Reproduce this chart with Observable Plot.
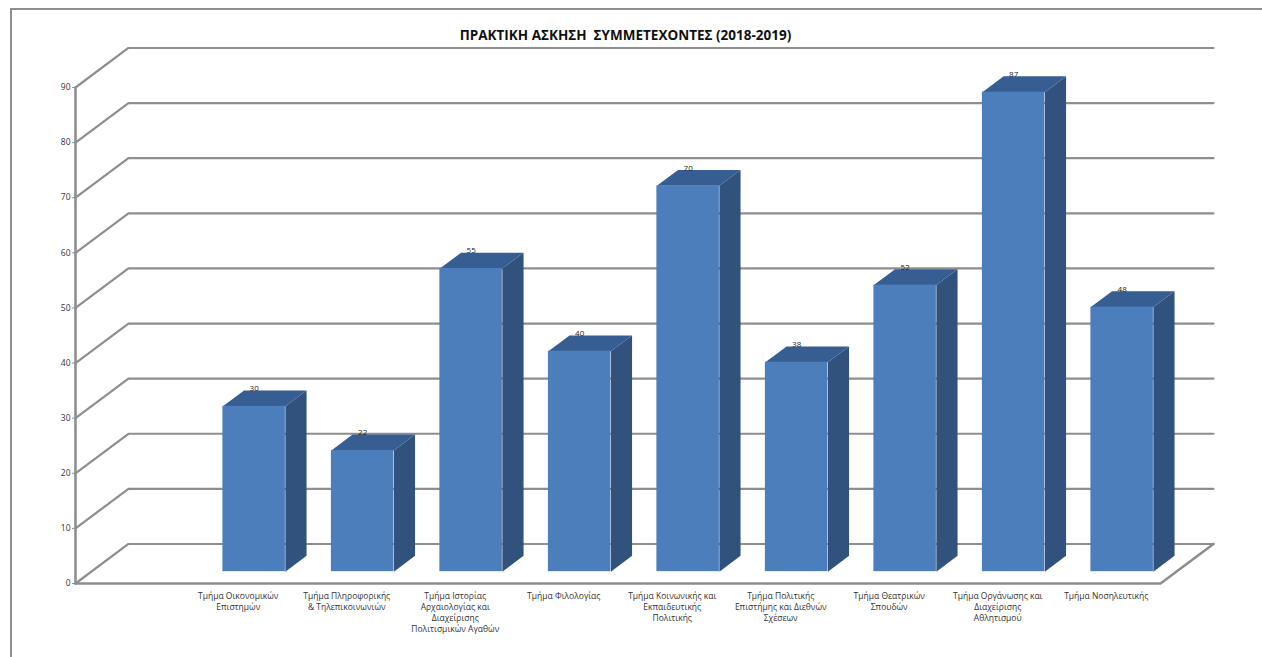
<!DOCTYPE html>
<html lang="el">
<head>
<meta charset="utf-8">
<script src="https://cdn.jsdelivr.net/npm/d3@7"></script>
<script src="https://cdn.jsdelivr.net/npm/@observablehq/plot@0.6"></script>
<style>
html,body{margin:0;padding:0;background:#fff;overflow:hidden}
#frame{position:absolute;left:10px;top:8px;width:1400px;height:800px;border:2.5px solid #8e8e8e;box-sizing:border-box}
#chart{position:absolute;left:0;top:0}
svg{display:block}
</style>
</head>
<body>
<div id="frame"></div>
<div id="chart"></div>
<script>
const chartTitle = "ΠΡΑΚΤΙΚΗ ΑΣΚΗΣΗ \u00a0ΣΥΜΜΕΤΕΧΟΝΤΕΣ (2018-2019)";
const categories = [
  "",
  "Τμήμα Οικονομικών\nΕπιστημών",
  "Τμήμα Πληροφορικής\n& Τηλεπικοινωνιών",
  "Τμήμα Ιστορίας\nΑρχαιολογίας και\nΔιαχείρισης\nΠολιτισμικών Αγαθών",
  "Τμήμα Φιλολογίας",
  "Τμήμα Κοινωνικής και\nΕκπαιδευτικής\nΠολιτικής",
  "Τμήμα Πολιτικής\nΕπιστήμης και Διεθνών\nΣχέσεων",
  "Τμήμα Θεατρικών\nΣπουδών",
  "Τμήμα Οργάνωσης και\nΔιαχείρισης\nΑθλητισμού",
  "Τμήμα Νοσηλευτικής"
];
const values = [null, 30, 22, 55, 40, 70, 38, 52, 87, 48];
const yTicks = [0, 10, 20, 30, 40, 50, 60, 70, 80, 90];

// Oblique projection of the 3D chart: depth 0 = front plane, depth 1 = back wall
const depthX = 0.488, depthY = 7.17;
const barWidth = 0.576, barDepthStart = 0.3, barDepthEnd = 0.7;
const px = (x, d) => x + d * depthX;
const py = (y, d) => y + d * depthY;
const nCat = categories.length;

const pt = (group, x, y, d) => ({group, x: px(x, d), y: py(y, d)});

const gridPts = yTicks.flatMap(v => [pt(v, 0, v, 0), pt(v, 0, v, 1), pt(v, nCat, v, 1)]);
const framePts = [
  pt("axis", 0, 0, 0), pt("axis", 0, yTicks[yTicks.length - 1], 0),
  pt("floor", 0, 0, 0), pt("floor", nCat, 0, 0), pt("floor", nCat, 0, 1)
];

const bars = values.map((v, i) => ({i, v})).filter(d => d.v != null);
const left = d => d.i + 0.5 - barWidth / 2, right = d => d.i + 0.5 + barWidth / 2;
const sides = bars.flatMap(d => [
  pt(d.i, right(d), 0, barDepthStart), pt(d.i, right(d), 0, barDepthEnd),
  pt(d.i, right(d), d.v, barDepthEnd), pt(d.i, right(d), d.v, barDepthStart)
]);
const tops = bars.flatMap(d => [
  pt(d.i, left(d), d.v, barDepthStart), pt(d.i, left(d), d.v, barDepthEnd),
  pt(d.i, right(d), d.v, barDepthEnd), pt(d.i, right(d), d.v, barDepthStart)
]);

const font = "'Open Sans', sans-serif";
const chart = Plot.plot({
  width: 1262, height: 657,
  marginLeft: 75, marginRight: 102, marginTop: 87, marginBottom: 74,
  style: {background: "transparent", fontFamily: font},
  x: {domain: [0, nCat], axis: null},
  y: {domain: [0, 90], label: null},
  marks: [
    Plot.axisY({ticks: yTicks, tickSize: 3, tickPadding: 2, fontSize: 8.5, label: null, stroke: "#8e8e8e", color: "#333"}),
    Plot.line(gridPts, {x: "x", y: "y", z: "group", stroke: "#8e8e8e", strokeWidth: 2.2}),
    Plot.line(framePts, {x: "x", y: "y", z: "group", stroke: "#8e8e8e", strokeWidth: 2.6}),
    Plot.line(sides, {x: "x", y: "y", z: "group", fill: "#31527d", stroke: "none"}),
    Plot.line(tops, {x: "x", y: "y", z: "group", fill: "#365e92", stroke: "none"}),
    Plot.rect(bars, {
      x1: d => px(left(d), barDepthStart), x2: d => px(right(d), barDepthStart),
      y1: d => py(0, barDepthStart), y2: d => py(d.v, barDepthStart),
      fill: "#4d7ebc"
    }),
    Plot.text(bars, {
      x: d => px(d.i + 0.5, barDepthStart), y: d => py(d.v, barDepthEnd),
      text: d => String(d.v), dy: -2, fontSize: 8, fill: "#222"
    }),
    Plot.text(categories.map((c, i) => ({c, i})).filter(d => d.c), {
      x: d => d.i + 0.5, y: () => 0, text: "c",
      lineAnchor: "top", dy: 7.5, lineHeight: 1.3, fontSize: 8.5, fill: "#333"
    }),
    Plot.text([chartTitle], {
      frameAnchor: "top", text: d => d, dx: 7.5, dy: -52, lineAnchor: "middle",
      fontSize: 13.5, fontWeight: 700, fill: "#111"
    })
  ]
});
document.getElementById("chart").append(chart);
</script>
</body>
</html>
